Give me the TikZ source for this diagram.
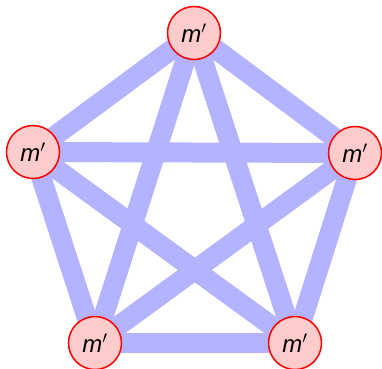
\documentclass[tikz,border=0pt]{standalone}
\usepackage{fontspec}
\setmainfont{Liberation Sans}
\definecolor{edgeblue}{HTML}{B3B3FF}
\definecolor{nodepink}{HTML}{FFCCCC}
\begin{document}
\begin{tikzpicture}[x=1pt,y=-1pt,
  vert/.style={circle,draw=red,line width=1.5pt,fill=nodepink,minimum size=53pt,inner sep=0pt,font=\fontsize{24}{24}\selectfont\itshape},
  edge/.style={draw=edgeblue,line width=20pt}]
\useasboundingbox (0,0) rectangle (382,368);
\coordinate (A) at (194,33);
\coordinate (B) at (33,152);
\coordinate (C) at (355,153);
\coordinate (D) at (95,343);
\coordinate (E) at (295,343);
\foreach \u/\v in {A/B,A/C,A/D,A/E,B/C,B/D,B/E,C/D,C/E,D/E}
  \draw[edge] (\u) -- (\v);
\node[vert] (a) at (A) {\textit{m}$'$};
\node[vert] (b) at (B) {\textit{m}$'$};
\node[vert] (c) at (C) {\textit{m}$'$};
\node[vert] (d) at (D) {\textit{m}$'$};
\node[vert] (e) at (E) {\textit{m}$'$};
\end{tikzpicture}
\end{document}
